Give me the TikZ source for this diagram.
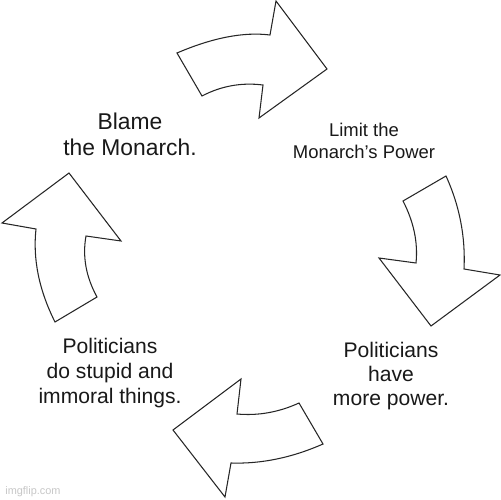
\documentclass[tikz,border=0pt]{standalone}
\usepackage{fontspec}
\setmainfont{Liberation Sans}
\begin{document}
\begin{tikzpicture}[x=0.02cm,y=-0.02cm,
  arrowshape/.style={draw=black!85,line width=0.6pt,line join=miter,fill=white},
  lbl/.style={inner sep=0pt,align=center,anchor=north,text=black!90}]
\useasboundingbox[fill=white] (0,0) rectangle (500,500);
% top arrow
\draw[arrowshape] (177,53) .. controls (212.7,37.7) and (243.7,31.7) .. (270,35) -- (276,1) -- (327,69) -- (259,118) -- (263,85) .. controls (241.6,82.3) and (221.3,85.9) .. (202,96) -- cycle;
% right arrow
\draw[arrowshape] (403,201) -- (446,176) .. controls (459.6,205.9) and (465.6,236.9) .. (464,269) -- (500,275) -- (431,326) -- (379,258) -- (416,263) .. controls (418.1,242.3) and (413.7,221.7) .. cycle;
% bottom arrow
\draw[arrowshape] (241,379) -- (237,414) .. controls (258.1,415.9) and (278.7,412.3) .. (299,403) -- (323,444) .. controls (291.9,457.7) and (261.3,464) .. (231,463) -- (225,497) -- (173,430) -- cycle;
% left arrow
\draw[arrowshape] (69,173) -- (121,241) -- (86,236) .. controls (82.3,256.6) and (86,276.9) .. (97,297) -- (55,322) .. controls (39.1,290.3) and (32.7,259.3) .. (36,229) -- (2,223) -- cycle;
% labels
\node[lbl,font=\fontsize{13}{14.7}\selectfont] (blame) at (130,113) {Blame\\the Monarch.};
\node[lbl,font=\fontsize{10.5}{12.5}\selectfont] (limit) at (364,123) {Limit the\\Monarch’s Power};
\node[lbl,font=\fontsize{12}{14.2}\selectfont] (stupid) at (110,338) {Politicians\\do stupid and\\immoral things.};
\node[lbl,font=\fontsize{12}{13.6}\selectfont] (power) at (391,342) {Politicians\\have\\more power.};
\node[inner sep=0pt,anchor=base west,text=black!22,font=\fontsize{6.2}{7}\selectfont] (wm) at (5,494) {imgflip.com};
\end{tikzpicture}
\end{document}
